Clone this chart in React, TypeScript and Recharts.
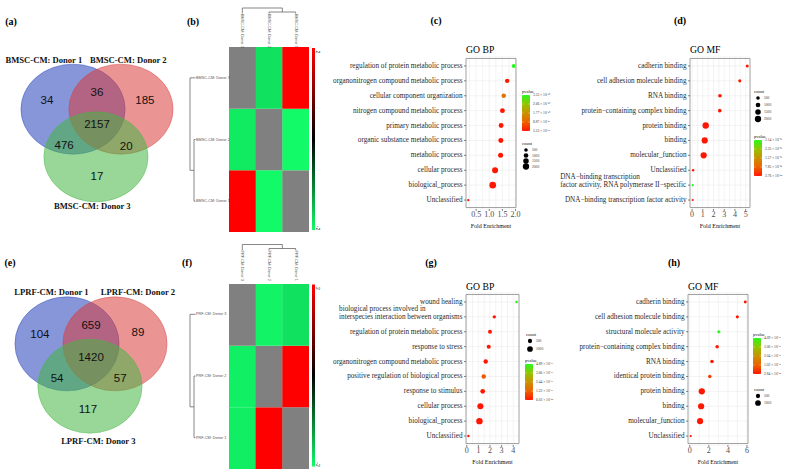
import React from "react";
import {
  ScatterChart,
  Scatter,
  XAxis,
  YAxis,
  ZAxis,
  CartesianGrid,
  ReferenceArea,
  BarChart,
  Bar,
  Cell,
} from "recharts";

const SERIF = '"Liberation Serif", "Times New Roman", serif';
const SANS = '"Liberation Sans", Arial, sans-serif';

// ---------- Venn (a) / (e) ----------
// regions: only 1, 1&2, only 2, 1&2&3, 1&3, 2&3, only 3
const bmscSets = ["BMSC-CM: Donor 1", "BMSC-CM: Donor 2", "BMSC-CM: Donor 3"];
const bmscCounts = [34, 36, 185, 2157, 476, 20, 17];
const lprfSets = ["LPRF-CM: Donor 1", "LPRF-CM: Donor 2", "LPRF-CM: Donor 3"];
const lprfCounts = [104, 659, 89, 1420, 54, 57, 117];

// ---------- heatmaps (b) / (f): rows & cols = Donor 3, Donor 2, Donor 1 ----------
const bmscDonors = ["BMSC-CM: Donor 3", "BMSC-CM: Donor 2", "BMSC-CM: Donor 1"];
const bmscMatrix: (number | null)[][] = [
  [null, -1.8, 2],
  [-1.88, null, -2],
  [2, -2, null],
];
const prfDonors = ["PRF-CM: Donor 3", "PRF-CM: Donor 2", "PRF-CM: Donor 1"];
const prfMatrix: (number | null)[][] = [
  [null, -1.95, -1.8],
  [-1.92, null, 2],
  [-1.9, 2, null],
];

// ---------- (c) GO BP, BMSC ----------
const bpTermsC = [
  "regulation of protein metabolic process",
  "organonitrogen compound metabolic process",
  "cellular component organization",
  "nitrogen compound metabolic process",
  "primary metabolic process",
  "organic substance metabolic process",
  "metabolic process",
  "cellular process",
  "biological_process",
  "Unclassified",
];
const bpFoldC = [1.93, 1.68, 1.55, 1.5, 1.45, 1.44, 1.43, 1.22, 1.13, 0.2];
const bpCountC = [650, 850, 900, 1100, 1150, 1170, 1200, 1800, 2200, 90];
const bpPvalC = [3.53e-40, 2.1e-55, 1.24e-40, 4.6e-58, 3.3e-62, 1.8e-61, 7.7e-63, 5.1e-70, 5.53e-73, 2.2e-60];
const pTicksC = ["3.53 × 10⁻⁴⁰", "2.66 × 10⁻⁴⁰", "1.77 × 10⁻⁴⁰", "8.87 × 10⁻⁴¹", "5.53 × 10⁻⁷³"];
const countTicksC = [500, 1000, 1500, 2000];

// ---------- (d) GO MF, BMSC ----------
const mfTermsD = [
  "cadherin binding",
  "cell adhesion molecule binding",
  "RNA binding",
  "protein−containing complex binding",
  "protein binding",
  "binding",
  "molecular_function",
  "Unclassified",
  "DNA−binding transcription\nfactor activity, RNA polymerase II−specific",
  "DNA−binding transcription factor activity",
];
const mfFoldD = [5.15, 4.45, 2.6, 2.58, 1.27, 1.18, 1.08, 0.1, 0.06, 0.06];
const mfCountD = [290, 310, 520, 500, 2050, 1950, 1900, 110, 25, 30];
const mfPvalD = [2.3e-60, 4.1e-66, 1.2e-70, 3.3e-52, 3.76e-88, 1.5e-85, 2.2e-80, 6.6e-40, 3.14e-7, 1.1e-9];
const pTicksD = ["3.14 × 10⁻⁰⁷", "2.35 × 10⁻⁰⁷", "1.57 × 10⁻⁰⁷", "7.85 × 10⁻⁰⁸", "3.76 × 10⁻⁸⁸"];
const countTicksD = [500, 1000, 1500, 2000];

// ---------- (g) GO BP, LPRF ----------
const bpTermsG = [
  "wound healing",
  "biological process involved in\ninterspecies interaction between organisms",
  "regulation of protein metabolic process",
  "response to stress",
  "organonitrogen compound metabolic process",
  "positive regulation of biological process",
  "response to stimulus",
  "cellular process",
  "biological_process",
  "Unclassified",
];
const bpFoldG = [4.29, 2.37, 2.0, 1.89, 1.63, 1.46, 1.37, 1.17, 1.09, 0.14];
const bpCountG = [100, 270, 420, 430, 540, 550, 620, 1150, 1300, 60];
const bpPvalG = [4.89e-19, 3.2e-30, 1.1e-28, 5.5e-31, 2.7e-32, 1.05e-19, 8.8e-35, 3.1e-40, 6.02e-44, 1.7e-25];
const pTicksG = ["4.89 × 10⁻¹⁹", "3.66 × 10⁻¹⁹", "2.44 × 10⁻¹⁹", "1.22 × 10⁻¹⁹", "6.02 × 10⁻⁴⁴"];
const countTicksG = [500, 1000];

// ---------- (h) GO MF, LPRF ----------
const mfTermsH = [
  "cadherin binding",
  "cell adhesion molecule binding",
  "structural molecule activity",
  "protein−containing complex binding",
  "RNA binding",
  "identical protein binding",
  "protein binding",
  "binding",
  "molecular_function",
  "Unclassified",
];
const mfFoldH = [5.82, 4.99, 3.05, 2.87, 2.33, 2.1, 1.26, 1.19, 1.08, 0.1];
const mfCountH = [160, 200, 230, 290, 300, 280, 1250, 1200, 1150, 40];
const mfPvalH = [1.2e-30, 4.4e-33, 4.09e-13, 2.2e-28, 7.1e-30, 5.0e-14, 2.84e-44, 3.3e-42, 1.9e-40, 2.0e-20];
const pTicksH = ["4.09 × 10⁻¹³", "3.06 × 10⁻¹³", "2.04 × 10⁻¹³", "1.02 × 10⁻¹³", "2.84 × 10⁻⁴⁴"];
const countTicksH = [500, 1000];

// ---------- helpers ----------
const P_STOPS = [
  [255, 22, 0],
  [236, 98, 0],
  [200, 146, 0],
  [146, 196, 0],
  [40, 248, 30],
];
function pColor(t: number) {
  const c = Math.max(0, Math.min(1, t)) * 4;
  const i = Math.min(3, Math.floor(c));
  const f = c - i;
  const a = P_STOPS[i];
  const b = P_STOPS[i + 1];
  const m = (k: number) => Math.round(a[k] + (b[k] - a[k]) * f);
  return `rgb(${m(0)},${m(1)},${m(2)})`;
}

function heatColor(v: number | null) {
  if (v === null) return "#808080";
  const t = Math.min(1, Math.abs(v) / 2);
  if (v > 0) return `rgb(${Math.round(255 * t)},0,0)`;
  return `rgb(${Math.round(18 * t)},${Math.round(250 * t)},${Math.round(104 * t)})`;
}

const SIZE_RANGE = [3, 37];
function dotR(count: number, max: number) {
  const area = SIZE_RANGE[0] + ((SIZE_RANGE[1] - SIZE_RANGE[0]) * count) / max;
  return Math.sqrt(area / Math.PI);
}

let measureCtx: CanvasRenderingContext2D | null = null;
function textWidth(s: string, size: number) {
  if (!measureCtx && typeof document !== "undefined") {
    measureCtx = document.createElement("canvas").getContext("2d");
  }
  if (!measureCtx) return s.length * size * 0.42;
  measureCtx.font = `${size}px "Liberation Serif"`;
  return measureCtx.measureText(s).width;
}

function Txt({
  x,
  y,
  children,
  size,
  bold,
  family = SERIF,
  align = "center",
  color = "#000",
}: {
  x: number;
  y: number;
  children: React.ReactNode;
  size: number;
  bold?: boolean;
  family?: string;
  align?: "center" | "left";
  color?: string;
}) {
  return (
    <div
      style={{
        position: "absolute",
        left: x,
        top: y,
        transform: align === "center" ? "translate(-50%,-50%)" : "translate(0,-50%)",
        fontFamily: family,
        fontSize: size,
        fontWeight: bold ? 700 : 400,
        lineHeight: 1,
        whiteSpace: "nowrap",
        color,
      }}
    >
      {children}
    </div>
  );
}

// ---------- Venn ----------
const vennFills = ["#2340b8", "#d93c3c", "#43b743"];

function Venn({
  cx,
  cy,
  unitY,
  sets,
  counts,
  centers,
  countPos,
  setPos,
}: {
  cx: number;
  cy: number;
  unitY: number;
  sets: string[];
  counts: number[];
  centers: number[][];
  countPos: number[][];
  setPos: number[][];
}) {
  const W = 198;
  const H = unitY * 4;
  const unitX = W / 3.8;
  const circles = centers.map((c, i) => ({ x: c[0], y: c[1], fill: vennFills[i] }));
  const countData = counts.map((n, i) => ({ x: countPos[i][0], y: countPos[i][1], label: String(n) }));
  const setData = sets.map((s, i) => ({ x: setPos[i][0], y: setPos[i][1], label: s }));
  return (
    <div style={{ position: "absolute", left: cx - W / 2, top: cy - H / 2 }}>
      <ScatterChart width={W} height={H} margin={{ top: 0, right: 0, bottom: 0, left: 0 }}>
        <XAxis type="number" dataKey="x" domain={[-1.9, 1.9]} hide />
        <YAxis type="number" dataKey="y" domain={[-2, 2]} hide />
        <Scatter
          data={circles}
          isAnimationActive={false}
          shape={(p: any) => (
            <ellipse
              cx={p.cx}
              cy={p.cy}
              rx={unitX}
              ry={unitY}
              fill={p.payload.fill}
              fillOpacity={0.55}
              stroke={p.payload.fill}
              strokeOpacity={0.7}
              strokeWidth={0.6}
            />
          )}
        />
        <Scatter
          data={countData}
          isAnimationActive={false}
          shape={(p: any) => (
            <text
              x={p.cx}
              y={p.cy}
              textAnchor="middle"
              dominantBaseline="central"
              fontFamily={SANS}
              fontSize={11.5}
              fill="#111"
            >
              {p.payload.label}
            </text>
          )}
        />
        <Scatter
          data={setData}
          isAnimationActive={false}
          shape={(p: any) => (
            <text
              x={p.cx}
              y={p.cy}
              textAnchor="middle"
              dominantBaseline="central"
              fontFamily={SERIF}
              fontWeight={700}
              fontSize={8.6}
              fill="#111"
            >
              {p.payload.label}
            </text>
          )}
        />
      </ScatterChart>
    </div>
  );
}

// ---------- Heatmap ----------
function Heatmap({ top, names, matrix }: { top: number; names: string[]; matrix: (number | null)[][] }) {
  const cellL = 229;
  const cellW = 80;
  const cellH = 185;
  const data = names.map((n) => ({ col: n, r0: 1, r1: 1, r2: 1 }));
  const colX = names.map((_, j) => cellL + (j + 0.5) * (cellW / 3));
  const rowY = names.map((_, i) => top + (i + 0.5) * (cellH / 3));
  const yTop = top - 39;
  const ySub = top - 35;
  const yLab = top - 33.5;
  const xLab = 195.5;
  const xSub = 194;
  const xTop = 190;
  const midC = (colX[1] + colX[2]) / 2;
  const midR = (rowY[1] + rowY[2]) / 2;
  const ln = { stroke: "#555", strokeWidth: 0.7, fill: "none" };
  const gid = `hg${Math.round(top)}`;
  return (
    <>
      <div style={{ position: "absolute", left: cellL, top }}>
        <BarChart width={cellW} height={cellH} data={data} margin={{ top: 0, right: 0, bottom: 0, left: 0 }} barCategoryGap={0} barGap={0}>
          <XAxis dataKey="col" hide />
          <YAxis type="number" domain={[0, 3]} hide />
          {["r2", "r1", "r0"].map((k) => {
            const row = Number(k.slice(1));
            return (
              <Bar key={k} dataKey={k} stackId="a" isAnimationActive={false}>
                {data.map((_, j) => (
                  <Cell key={j} fill={heatColor(matrix[row][j])} />
                ))}
              </Bar>
            );
          })}
        </BarChart>
      </div>
      <svg style={{ position: "absolute", left: 0, top: 0 }} width={796} height={472} pointerEvents="none">
        <defs>
          <linearGradient id={gid} x1="0" y1="0" x2="0" y2="1">
            <stop offset="0" stopColor="#ff0000" />
            <stop offset="0.5" stopColor="#000000" />
            <stop offset="1" stopColor="#12fa68" />
          </linearGradient>
        </defs>
        {/* column dendrogram */}
        <path d={`M${colX[1]},${yLab}V${ySub}H${colX[2]}V${yLab}M${midC},${ySub}V${yTop}H${colX[0]}V${yLab}`} {...ln} />
        {/* row dendrogram */}
        <path d={`M${xLab},${rowY[1]}H${xSub}V${rowY[2]}H${xLab}M${xSub},${midR}H${xTop}V${rowY[0]}H${xLab}`} {...ln} />
        {names.map((n, j) => (
          <text
            key={"c" + j}
            x={colX[j]}
            y={yLab + 0.5}
            transform={`rotate(90 ${colX[j]} ${yLab + 0.5})`}
            dominantBaseline="central"
            fontFamily={SANS}
            fontSize={3.8}
            fill="#555"
          >
            {n}
          </text>
        ))}
        {names.map((n, i) => (
          <text key={"r" + i} x={xLab + 0.5} y={rowY[i]} dominantBaseline="central" fontFamily={SANS} fontSize={3.8} fill="#555">
            {n}
          </text>
        ))}
        <rect x={cellL + 83} y={top + 1} width={3} height={cellH - 3} fill={`url(#${gid})`} />
        <text x={cellL + 89} y={top + 5} transform={`rotate(90 ${cellL + 89} ${top + 5})`} textAnchor="middle" dominantBaseline="central" fontFamily={SANS} fontSize={5} fill="#333">
          2
        </text>
        <text x={cellL + 89} y={top + cellH - 4} transform={`rotate(90 ${cellL + 89} ${top + cellH - 4})`} textAnchor="middle" dominantBaseline="central" fontFamily={SANS} fontSize={5} fill="#333">
          -2
        </text>
      </svg>
    </>
  );
}

// ---------- Dot plot ----------
const TICK_FS = 7.2;
const TermTick = (props: any) => {
  const { x, y, payload } = props;
  const lines = String(payload.value).split("\n");
  if (lines.length === 1) {
    return (
      <text x={x} y={y} textAnchor="end" dominantBaseline="central" fontFamily={SERIF} fontSize={TICK_FS} fill="#2a2a2a">
        {lines[0]}
      </text>
    );
  }
  const w = Math.max(...lines.map((l) => textWidth(l, TICK_FS)));
  return (
    <text dominantBaseline="central" fontFamily={SERIF} fontSize={TICK_FS} fill="#2a2a2a">
      {lines.map((l, i) => (
        <tspan key={i} x={x - w} y={y - (lines.length - 1 - i) * 8} textAnchor="start">
          {l}
        </tspan>
      ))}
    </text>
  );
};

function DotPlot({
  left,
  top,
  yWidth,
  plotW,
  terms,
  fold,
  counts,
  pvals,
  ticks,
  minor,
  sizeMax,
  decimals,
}: {
  left: number;
  top: number;
  yWidth: number;
  plotW: number;
  terms: string[];
  fold: number[];
  counts: number[];
  pvals: number[];
  ticks: number[];
  minor: number[];
  sizeMax: number;
  decimals: number;
}) {
  const data = terms.map((t, i) => ({ term: t, fe: fold[i], count: counts[i], p: pvals[i] }));
  const lo = Math.min(...fold);
  const hi = Math.max(...fold);
  const ex = (hi - lo) * 0.05;
  const dom = [lo - ex, hi + ex];
  const pMin = Math.min(...pvals);
  const pMax = Math.max(...pvals);
  const plotH = 152;
  const rightPad = 8;
  return (
    <div style={{ position: "absolute", left, top }}>
      <ScatterChart width={yWidth + plotW + rightPad} height={7 + plotH + 20} margin={{ top: 7, right: rightPad, bottom: 0, left: 0 }}>
        <CartesianGrid stroke="#ebebeb" strokeWidth={0.6} verticalValues={[...ticks, ...minor]} />
        <XAxis
          type="number"
          dataKey="fe"
          domain={dom}
          allowDataOverflow
          ticks={ticks}
          interval={0}
          tickFormatter={(v: number) => v.toFixed(decimals)}
          tick={{ fontFamily: SERIF, fontSize: 8, fill: "#4d4d4d" }}
          tickLine={{ stroke: "#333", strokeWidth: 0.6 }}
          tickSize={2}
          tickMargin={0}
          axisLine={false}
          height={20}
          label={{ value: "Fold Enrichment", position: "insideBottom", offset: 1, fontFamily: SERIF, fontSize: 6, fill: "#111" }}
        />
        <YAxis
          type="category"
          dataKey="term"
          width={yWidth}
          reversed
          interval={0}
          tick={<TermTick />}
          tickSize={2}
          tickMargin={1.5}
          tickLine={{ stroke: "#333", strokeWidth: 0.6 }}
          axisLine={false}
          padding={{ top: 1.5, bottom: 1.5 }}
        />
        <ZAxis type="number" dataKey="count" domain={[0, sizeMax]} range={SIZE_RANGE} />
        <ReferenceArea x1={dom[0]} x2={dom[1]} fill="none" stroke="#8c8c8c" strokeWidth={0.8} ifOverflow="visible" />
        <Scatter data={data} isAnimationActive={false}>
          {data.map((d, i) => (
            <Cell key={i} fill={pColor((d.p - pMin) / (pMax - pMin))} />
          ))}
        </Scatter>
      </ScatterChart>
    </div>
  );
}

function PLegend({ x, y, labels, id }: { x: number; y: number; labels: string[]; id: string }) {
  const barH = 36;
  return (
    <svg style={{ position: "absolute", left: x, top: y }} width={44} height={barH + 10}>
      <defs>
        <linearGradient id={id} x1="0" y1="1" x2="0" y2="0">
          {P_STOPS.map((_, i) => (
            <stop key={i} offset={i / 4} stopColor={pColor(i / 4)} />
          ))}
        </linearGradient>
      </defs>
      <text x={0} y={3} dominantBaseline="central" fontFamily={SERIF} fontSize={4.5} fill="#111">
        pvalue
      </text>
      <rect x={0} y={7} width={8} height={barH} fill={`url(#${id})`} />
      {labels.map((l, i) => {
        const yy = 7 + (i * barH) / (labels.length - 1);
        return (
          <g key={i}>
            <line x1={0} x2={1.5} y1={yy} y2={yy} stroke="#fff" strokeWidth={0.4} />
            <line x1={6.5} x2={8} y1={yy} y2={yy} stroke="#fff" strokeWidth={0.4} />
            <text x={11} y={yy} dominantBaseline="central" fontFamily={SERIF} fontSize={3.6} fill="#333">
              {l}
            </text>
          </g>
        );
      })}
    </svg>
  );
}

function CountLegend({ x, y, counts, max, gap }: { x: number; y: number; counts: number[]; max: number; gap: number }) {
  return (
    <svg style={{ position: "absolute", left: x, top: y }} width={30} height={10 + counts.length * gap}>
      <text x={0} y={3} dominantBaseline="central" fontFamily={SERIF} fontSize={4.5} fill="#111">
        count
      </text>
      {counts.map((c, i) => {
        const yy = 10 + i * gap;
        return (
          <g key={c}>
            <circle cx={4} cy={yy} r={dotR(c, max)} fill="#000" />
            <text x={10} y={yy} dominantBaseline="central" fontFamily={SERIF} fontSize={3.6} fill="#333">
              {c}
            </text>
          </g>
        );
      })}
    </svg>
  );
}

export default function App() {
  return (
    <div
      style={{
        position: "absolute",
        left: 0,
        top: 0,
        width: 796,
        height: 472,
        background: "#fff",
        overflow: "hidden",
      }}
    >
      {/* panel letters */}
      <Txt x={11} y={22} size={10} bold>(a)</Txt>
      <Txt x={193} y={22} size={10} bold>(b)</Txt>
      <Txt x={436} y={21} size={10} bold>(c)</Txt>
      <Txt x={680} y={21} size={10} bold>(d)</Txt>
      <Txt x={10} y={263} size={10} bold>(e)</Txt>
      <Txt x={187} y={263} size={10} bold>(f)</Txt>
      <Txt x={431} y={263} size={10} bold>(g)</Txt>
      <Txt x={674} y={263} size={10} bold>(h)</Txt>

      <Venn
        cx={97}
        cy={133}
        unitY={45}
        sets={bmscSets}
        counts={bmscCounts}
        centers={[
          [-0.46, 0.53],
          [0.46, 0.53],
          [-0.02, -0.53],
        ]}
        countPos={[
          [-0.96, 0.73],
          [0, 0.91],
          [0.92, 0.73],
          [0, 0.2],
          [-0.63, -0.27],
          [0.56, -0.29],
          [0, -0.96],
        ]}
        setPos={[
          [-1.02, 1.62],
          [0.6, 1.62],
          [-0.09, -1.62],
        ]}
      />
      <Venn
        cx={91}
        cy={365}
        unitY={47}
        sets={lprfSets}
        counts={lprfCounts}
        centers={[
          [-0.46, 0.45],
          [0.46, 0.45],
          [-0.02, -0.45],
        ]}
        countPos={[
          [-0.98, 0.66],
          [0, 0.85],
          [0.9, 0.7],
          [0, 0.17],
          [-0.65, -0.28],
          [0.56, -0.28],
          [-0.06, -0.94],
        ]}
        setPos={[
          [-0.76, 1.55],
          [0.9, 1.55],
          [0.14, -1.62],
        ]}
      />

      <Heatmap top={47} names={bmscDonors} matrix={bmscMatrix} />
      <Heatmap top={283.5} names={prfDonors} matrix={prfMatrix} />

      <Txt x={466} y={50} size={9.7} align="left">GO BP</Txt>
      <Txt x={690} y={50} size={9.7} align="left">GO MF</Txt>
      <Txt x={466} y={287} size={9.7} align="left">GO BP</Txt>
      <Txt x={688} y={287} size={9.7} align="left">GO MF</Txt>

      <DotPlot
        left={330}
        top={50}
        yWidth={136}
        plotW={50}
        terms={bpTermsC}
        fold={bpFoldC}
        counts={bpCountC}
        pvals={bpPvalC}
        ticks={[0.5, 1, 1.5, 2]}
        minor={[0.25, 0.75, 1.25, 1.75]}
        sizeMax={2400}
        decimals={1}
      />
      <DotPlot
        left={560}
        top={50}
        yWidth={130}
        plotW={60}
        terms={mfTermsD}
        fold={mfFoldD}
        counts={mfCountD}
        pvals={mfPvalD}
        ticks={[0, 1, 2, 3, 4, 5]}
        minor={[0.5, 1.5, 2.5, 3.5, 4.5]}
        sizeMax={2400}
        decimals={0}
      />
      <DotPlot
        left={330}
        top={286}
        yWidth={136}
        plotW={53}
        terms={bpTermsG}
        fold={bpFoldG}
        counts={bpCountG}
        pvals={bpPvalG}
        ticks={[0, 1, 2, 3, 4]}
        minor={[0.5, 1.5, 2.5, 3.5]}
        sizeMax={1500}
        decimals={0}
      />
      <DotPlot
        left={560}
        top={286}
        yWidth={128}
        plotW={60}
        terms={mfTermsH}
        fold={mfFoldH}
        counts={mfCountH}
        pvals={mfPvalH}
        ticks={[0, 2, 4, 6]}
        minor={[1, 3, 5]}
        sizeMax={1500}
        decimals={0}
      />

      <PLegend x={522} y={88} labels={pTicksC} id="pc" />
      <CountLegend x={522} y={140} counts={countTicksC} max={2400} gap={5.5} />
      <CountLegend x={754} y={88} counts={countTicksD} max={2400} gap={7} />
      <PLegend x={754} y={133} labels={pTicksD} id="pd" />
      <CountLegend x={526} y={331} counts={countTicksG} max={1500} gap={8} />
      <PLegend x={525} y={357} labels={pTicksG} id="pg" />
      <PLegend x={753} y={331} labels={pTicksH} id="ph" />
      <CountLegend x={754} y={386} counts={countTicksH} max={1500} gap={7} />
    </div>
  );
}
